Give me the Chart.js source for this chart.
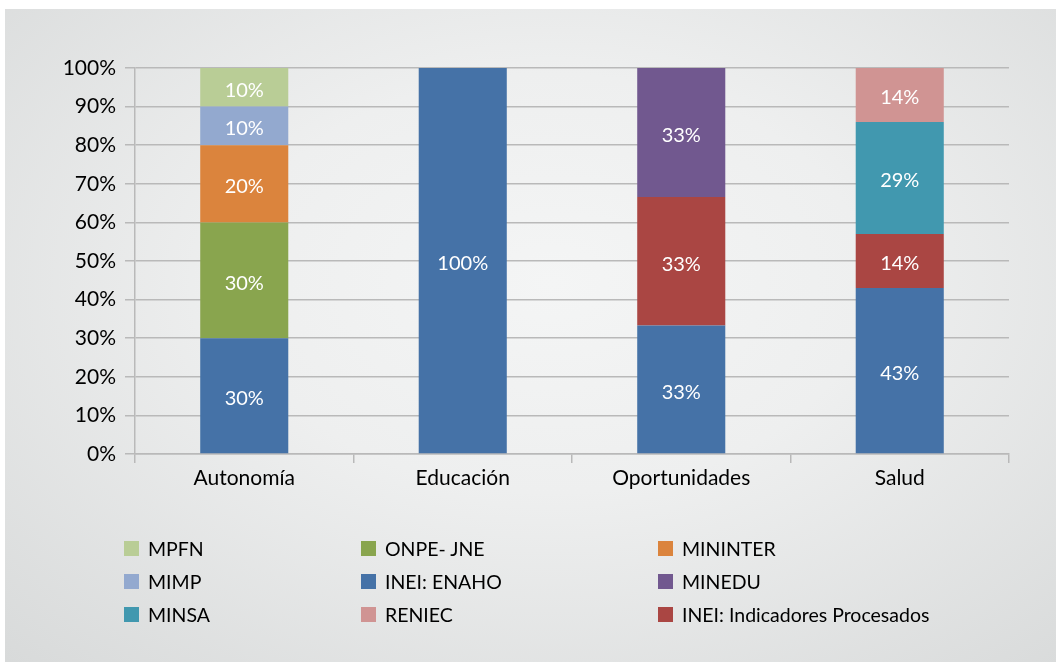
<!DOCTYPE html>
<html>
<head>
<meta charset="utf-8">
<script src="https://cdn.jsdelivr.net/npm/chart.js@4/dist/chart.umd.min.js"></script>
<style>
  html, body { margin: 0; padding: 0; background: #fff; }
  #panel {
    position: absolute; left: 5px; top: 9px; width: 1051px; height: 653px;
    background: radial-gradient(ellipse 75% 80% at 52% 42%, #f4f5f5 0%, #eeefef 40%, #d8dada 100%);
  }
  #wrap { position: absolute; left: 0; top: 0; width: 1056px; height: 662px; }
  #legend {
    position: absolute; left: 124px; top: 532px;
    display: grid; grid-template-columns: 237px 297px 297px; grid-auto-rows: 33px;
    font-family: Lato, sans-serif; font-size: 19.5px; color: #000;
  }
  #legend .item { display: flex; align-items: center; white-space: nowrap; }
  #legend .box { width: 15px; height: 15px; margin-right: 9px; flex: none; }
</style>
</head>
<body>
<div id="panel"></div>
<div id="wrap"><canvas id="chart"></canvas></div>
<div id="legend"></div>
<script>
// categories on the x axis
var categories = ['Autonomía', 'Educación', 'Oportunidades', 'Salud'];

// share of indicators per source, in percent (null = source not used)
var ineiEnaho       = [30, 100, 33.3, 43];
var onpeJne         = [30, null, null, null];
var mininter        = [20, null, null, null];
var mimp            = [10, null, null, null];
var mpfn            = [10, null, null, null];
var ineiIndicadores = [null, null, 33.3, 14];
var minedu          = [null, null, 33.4, null];
var minsa           = [null, null, null, 29];
var reniec          = [null, null, null, 14];

var yTicks = [0, 10, 20, 30, 40, 50, 60, 70, 80, 90, 100];

// stacking order, bottom to top
var series = [
  { label: 'INEI: ENAHO', data: ineiEnaho, color: '#4572a7' },
  { label: 'ONPE- JNE', data: onpeJne, color: '#89a54e' },
  { label: 'MININTER', data: mininter, color: '#db843d' },
  { label: 'MIMP', data: mimp, color: '#93a9cf' },
  { label: 'MPFN', data: mpfn, color: '#b9cd96' },
  { label: 'INEI: Indicadores Procesados', data: ineiIndicadores, color: '#aa4643' },
  { label: 'MINEDU', data: minedu, color: '#71588f' },
  { label: 'MINSA', data: minsa, color: '#4198af' },
  { label: 'RENIEC', data: reniec, color: '#d09493' }
];

// legend reads row by row, three columns
var legendOrder = ['MPFN', 'ONPE- JNE', 'MININTER',
                   'MIMP', 'INEI: ENAHO', 'MINEDU',
                   'MINSA', 'RENIEC', 'INEI: Indicadores Procesados'];

var gridColor = '#b9b9b9';

// white percent labels in the middle of each segment
var barLabels = {
  id: 'barLabels',
  afterDatasetsDraw: function (chart) {
    var ctx = chart.ctx;
    ctx.save();
    ctx.font = '20px Lato';
    ctx.fillStyle = '#ffffff';
    ctx.textAlign = 'center';
    ctx.textBaseline = 'middle';
    chart.data.datasets.forEach(function (ds, i) {
      chart.getDatasetMeta(i).data.forEach(function (bar, j) {
        var v = ds.data[j];
        if (v == null) return;
        var p = bar.getProps(['x', 'y', 'base'], true);
        ctx.fillText(Math.round(v) + '%', p.x, (p.y + p.base) / 2 + 3);
      });
    });
    ctx.restore();
  }
};

var chart = new Chart(document.getElementById('chart'), {
  type: 'bar',
  data: {
    labels: categories,
    datasets: series.map(function (s) {
      return {
        label: s.label,
        data: s.data,
        backgroundColor: s.color,
        borderWidth: 0,
        categoryPercentage: 1,
        barPercentage: 0.403
      };
    })
  },
  options: {
    responsive: true,
    maintainAspectRatio: false,
    animation: false,
    layout: { padding: { top: 68, right: 47, left: 0, bottom: 0 } },
    plugins: {
      legend: { display: false },
      tooltip: { enabled: false }
    },
    scales: {
      x: {
        stacked: true,
        offset: true,
        grid: { offset: true, drawOnChartArea: false, drawTicks: true, tickLength: 9,
                color: gridColor, lineWidth: 1.5 },
        border: { color: gridColor, width: 1.5 },
        ticks: { color: '#000', font: { family: 'Lato', size: 21 }, padding: 3 },
        afterFit: function (s) { s.height = 208; }
      },
      y: {
        stacked: true,
        min: 0,
        max: 100,
        afterBuildTicks: function (s) { s.ticks = yTicks.map(function (v) { return { value: v }; }); },
        grid: { color: gridColor, lineWidth: 1.5, tickLength: 10 },
        border: { color: gridColor, width: 1.5 },
        ticks: {
          color: '#000', font: { family: 'Lato', size: 21 }, padding: 9,
          callback: function (v) { return v + '%'; }
        },
        afterFit: function (s) { s.width = 135; }
      }
    }
  },
  plugins: [barLabels]
});

// html legend built from the series list
var legendEl = document.getElementById('legend');
legendOrder.forEach(function (name) {
  var s = series.filter(function (x) { return x.label === name; })[0];
  var item = document.createElement('div');
  item.className = 'item';
  var box = document.createElement('span');
  box.className = 'box';
  box.style.background = s.color;
  var txt = document.createElement('span');
  txt.textContent = s.label;
  item.appendChild(box);
  item.appendChild(txt);
  legendEl.appendChild(item);
});
</script>
</body>
</html>
